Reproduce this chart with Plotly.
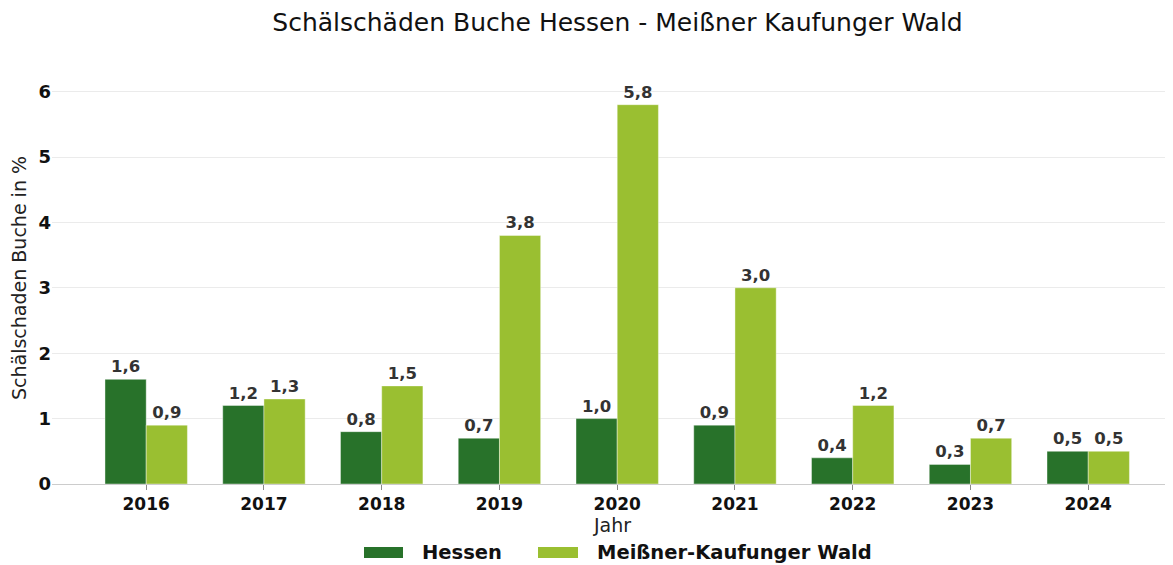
import plotly.graph_objects as go

years = ["2016", "2017", "2018", "2019", "2020", "2021", "2022", "2023", "2024"]
hessen = [1.6, 1.2, 0.8, 0.7, 1.0, 0.9, 0.4, 0.3, 0.5]
meissner = [0.9, 1.3, 1.5, 3.8, 5.8, 3.0, 1.2, 0.7, 0.5]
series = [("Hessen", hessen), ("Meißner-Kaufunger Wald", meissner)]

COLORS = ["#28722a", "#9abf31"]
FONT = "DejaVu Sans"

# the page has an 8px body margin, so the figure is a bit smaller than the window
OFF = 8
W, H = 1173 - OFF, 565 - OFF
L, R, T, B = 52 - OFF, 0, 72 - OFF, 81
PW, PH = W - L - R, H - T - B


def fmt(vals):
    return [f"{v:.1f}".replace(".", ",") for v in vals]


# window pixels -> paper coords (only for the hand-made legend)
def px_x(x):
    return (x - OFF - L) / PW


def px_y(y):
    return (H - B - (y - OFF)) / PH


fig = go.Figure()
for (name, vals), color in zip(series, COLORS):
    fig.add_trace(
        go.Bar(
            x=years,
            y=vals,
            name=name,
            marker=dict(color=color, line=dict(color="rgba(255,255,255,0.5)", width=0.8)),
            text=fmt(vals),
            textposition="outside",
            textfont=dict(family=FONT, size=16.5, color="#333333", weight="bold"),
            cliponaxis=False,
            showlegend=False,
        )
    )

# legend: wide swatches + bold labels
legend_items = [(364, 403, 420), (538, 578, 595)]
for (name, _), color, (x0, x1, tx) in zip(series, COLORS, legend_items):
    fig.add_shape(
        type="rect",
        xref="paper",
        yref="paper",
        x0=px_x(x0),
        x1=px_x(x1),
        y0=px_y(547),
        y1=px_y(558),
        fillcolor=color,
        opacity=1,
        line=dict(width=0),
    )
    fig.add_annotation(
        text=name,
        xref="paper",
        yref="paper",
        x=px_x(tx),
        y=px_y(552.5),
        xanchor="left",
        yanchor="middle",
        showarrow=False,
        font=dict(family=FONT, size=19.5, color="#111111", weight="bold"),
    )

fig.update_layout(
    width=W,
    height=H,
    template="simple_white",
    barmode="group",
    bargap=0.3,
    bargroupgap=0,
    showlegend=False,
    margin=dict(t=T, b=B, l=L, r=R),
    title=dict(
        text="Schälschäden Buche Hessen - Meißner Kaufunger Wald",
        x=(617.5 - OFF) / W,
        xanchor="center",
        y=1 - (22 - OFF) / H,
        yanchor="middle",
        font=dict(family=FONT, size=25, color="#111111"),
    ),
    font=dict(family=FONT),
)
fig.update_xaxes(
    range=[-0.8, 8.72],
    automargin=False,
    showline=True,
    linecolor="#cccccc",
    ticks="outside",
    ticklen=5,
    tickcolor="#888888",
    tickfont=dict(family=FONT, size=17, color="#111111", weight="bold"),
    title=dict(text="Jahr", font=dict(family=FONT, size=19, color="#222222"), standoff=4),
)
fig.update_yaxes(
    range=[0, 6.3],
    dtick=1,
    automargin=False,
    showline=False,
    ticks="",
    showgrid=True,
    gridcolor="#ebebeb",
    tickfont=dict(family=FONT, size=18, color="#111111", weight="bold"),
    title=dict(text="Schälschaden Buche in %", font=dict(family=FONT, size=19, color="#222222"), standoff=6),
)

fig.write_html("out.html")
